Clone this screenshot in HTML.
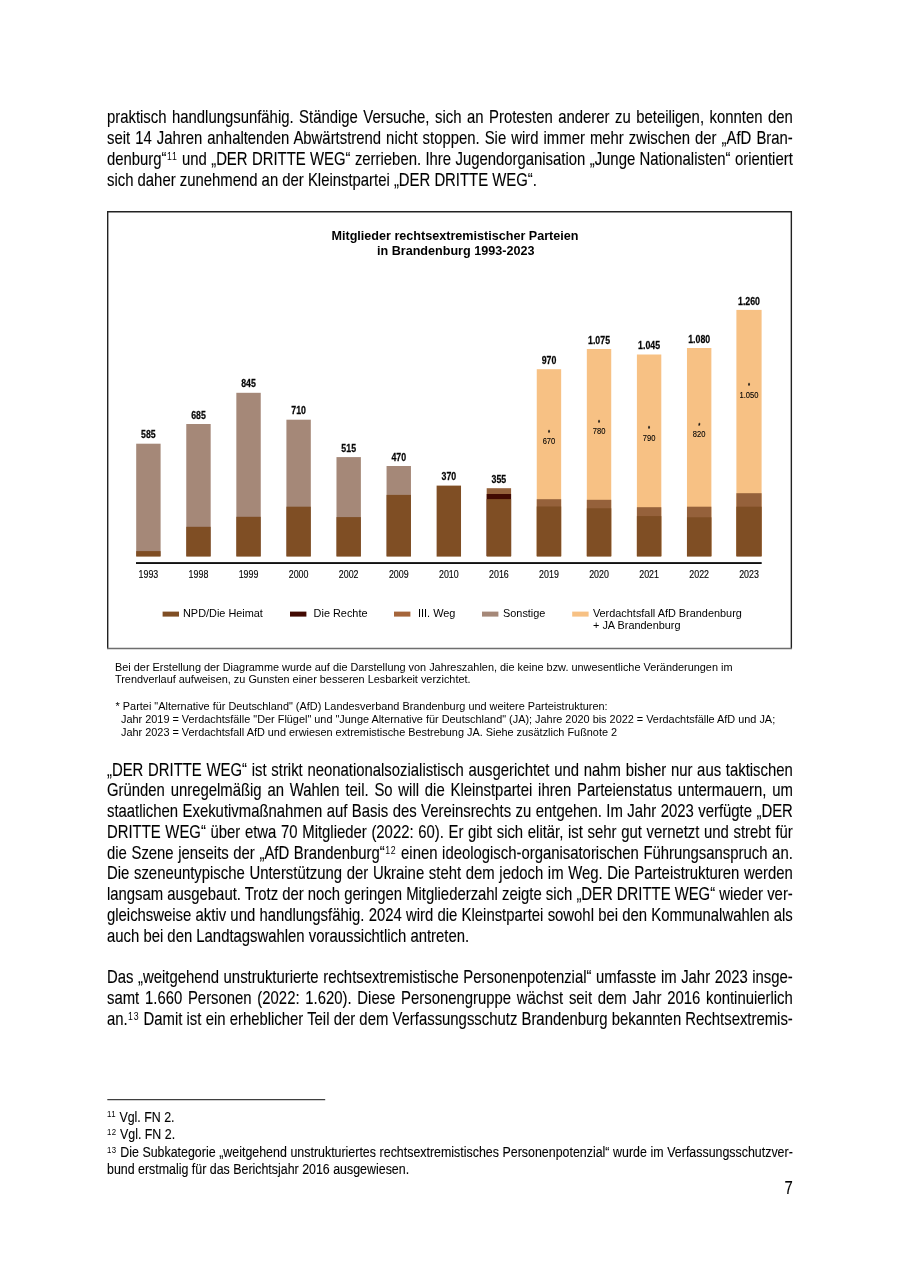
<!DOCTYPE html>
<html lang="de"><head><meta charset="utf-8"><title>Seite 7</title>
<style>
html,body{margin:0;padding:0;background:#fff}
body{width:900px;height:1273px;position:relative;overflow:hidden;font-family:"Liberation Sans",sans-serif;color:#000}
.pg{position:absolute;left:0;top:0;width:900px;height:1273px;filter:blur(0.35px)}
.ch{position:absolute;left:0;top:0}
.l{position:absolute;left:106.9px;width:834.31px;height:20px;line-height:20px;font-size:18.1px;white-space:nowrap;transform:scaleX(0.822);transform-origin:0 0;text-align:left;-webkit-text-stroke:0.12px #000}
.l.j{text-align:left}
.l.f{font-size:15.1px}
.l.pn{text-align:right}
.s{font-size:10.7px;position:relative;top:-4.7px;line-height:0;letter-spacing:0.9px;margin-left:0.5px;-webkit-text-stroke:0}
.fs{font-size:9.5px;position:relative;top:-4.2px;line-height:0;letter-spacing:0.5px;-webkit-text-stroke:0}
</style></head>
<body>
<div class="pg">
<svg class="ch" width="900" height="1273" viewBox="0 0 900 1273">
<path d="M107.7 648.6V211.8H791.35V648.6" fill="none" stroke="#222" stroke-width="1.4" stroke-linejoin="miter"/>
<path d="M107 648.5H792.05" fill="none" stroke="#6e6e6e" stroke-width="1.5"/>
<g font-family="'Liberation Sans', sans-serif" fill="#000">
<text x="455" y="240.4" font-size="12.6" font-weight="bold" text-anchor="middle" textLength="247" lengthAdjust="spacingAndGlyphs">Mitglieder rechtsextremistischer Parteien</text>
<text x="455.7" y="255.4" font-size="12.6" font-weight="bold" text-anchor="middle" textLength="157.5" lengthAdjust="spacingAndGlyphs">in Brandenburg 1993-2023</text>
<rect x="136.20" y="443.7" width="24.4" height="112.3" fill="#a58878"/>
<rect x="136.20" y="551.1" width="24.4" height="5.5" fill="#7f4e24"/>
<text transform="translate(148.40,438.3) scale(0.822,1)" font-size="10.7" font-weight="bold" stroke="#111" stroke-width="0.25" text-anchor="middle">585</text>
<text transform="translate(148.40,577.9) scale(0.822,1)" font-size="10.8" stroke="#111" stroke-width="0.15" text-anchor="middle">1993</text>
<rect x="186.27" y="424.0" width="24.4" height="132.0" fill="#a58878"/>
<rect x="186.27" y="526.8" width="24.4" height="29.8" fill="#7f4e24"/>
<text transform="translate(198.47,418.6) scale(0.822,1)" font-size="10.7" font-weight="bold" stroke="#111" stroke-width="0.25" text-anchor="middle">685</text>
<text transform="translate(198.47,577.9) scale(0.822,1)" font-size="10.8" stroke="#111" stroke-width="0.15" text-anchor="middle">1998</text>
<rect x="236.34" y="392.8" width="24.4" height="163.2" fill="#a58878"/>
<rect x="236.34" y="516.8" width="24.4" height="39.8" fill="#7f4e24"/>
<text transform="translate(248.54,387.4) scale(0.822,1)" font-size="10.7" font-weight="bold" stroke="#111" stroke-width="0.25" text-anchor="middle">845</text>
<text transform="translate(248.54,577.9) scale(0.822,1)" font-size="10.8" stroke="#111" stroke-width="0.15" text-anchor="middle">1999</text>
<rect x="286.41" y="419.7" width="24.4" height="136.3" fill="#a58878"/>
<rect x="286.41" y="506.7" width="24.4" height="49.9" fill="#7f4e24"/>
<text transform="translate(298.61,414.3) scale(0.822,1)" font-size="10.7" font-weight="bold" stroke="#111" stroke-width="0.25" text-anchor="middle">710</text>
<text transform="translate(298.61,577.9) scale(0.822,1)" font-size="10.8" stroke="#111" stroke-width="0.15" text-anchor="middle">2000</text>
<rect x="336.48" y="457.1" width="24.4" height="98.9" fill="#a58878"/>
<rect x="336.48" y="517.1" width="24.4" height="39.5" fill="#7f4e24"/>
<text transform="translate(348.68,451.7) scale(0.822,1)" font-size="10.7" font-weight="bold" stroke="#111" stroke-width="0.25" text-anchor="middle">515</text>
<text transform="translate(348.68,577.9) scale(0.822,1)" font-size="10.8" stroke="#111" stroke-width="0.15" text-anchor="middle">2002</text>
<rect x="386.55" y="466.0" width="24.4" height="90.0" fill="#a58878"/>
<rect x="386.55" y="494.9" width="24.4" height="61.7" fill="#7f4e24"/>
<text transform="translate(398.75,460.6) scale(0.822,1)" font-size="10.7" font-weight="bold" stroke="#111" stroke-width="0.25" text-anchor="middle">470</text>
<text transform="translate(398.75,577.9) scale(0.822,1)" font-size="10.8" stroke="#111" stroke-width="0.15" text-anchor="middle">2009</text>
<rect x="436.62" y="485.6" width="24.4" height="71.0" fill="#7f4e24"/>
<text transform="translate(448.82,480.2) scale(0.822,1)" font-size="10.7" font-weight="bold" stroke="#111" stroke-width="0.25" text-anchor="middle">370</text>
<text transform="translate(448.82,577.9) scale(0.822,1)" font-size="10.8" stroke="#111" stroke-width="0.15" text-anchor="middle">2010</text>
<rect x="486.69" y="488.2" width="24.4" height="67.8" fill="#95613b"/>
<rect x="486.69" y="494.0" width="24.4" height="62.0" fill="#420a02"/>
<rect x="486.69" y="499.1" width="24.4" height="57.5" fill="#7f4e24"/>
<text transform="translate(498.89,482.8) scale(0.822,1)" font-size="10.7" font-weight="bold" stroke="#111" stroke-width="0.25" text-anchor="middle">355</text>
<text transform="translate(498.89,577.9) scale(0.822,1)" font-size="10.8" stroke="#111" stroke-width="0.15" text-anchor="middle">2016</text>
<rect x="536.76" y="369.2" width="24.4" height="186.8" fill="#f7c184"/>
<rect x="536.76" y="499.2" width="24.4" height="56.8" fill="#95613b"/>
<rect x="536.76" y="506.5" width="24.4" height="50.1" fill="#7f4e24"/>
<text transform="translate(548.96,363.8) scale(0.822,1)" font-size="10.7" font-weight="bold" stroke="#111" stroke-width="0.25" text-anchor="middle">970</text>
<text transform="translate(548.96,577.9) scale(0.822,1)" font-size="10.8" stroke="#111" stroke-width="0.15" text-anchor="middle">2019</text>
<text transform="translate(548.96,444.4) scale(0.822,1)" font-size="9.2" stroke="#111" stroke-width="0.12" text-anchor="middle">670</text>
<text transform="translate(548.96,434.5) scale(0.822,1)" font-size="6.5" stroke="#111" stroke-width="0.3" text-anchor="middle">*</text>
<rect x="586.83" y="349.0" width="24.4" height="207.0" fill="#f7c184"/>
<rect x="586.83" y="499.8" width="24.4" height="56.2" fill="#95613b"/>
<rect x="586.83" y="508.3" width="24.4" height="48.3" fill="#7f4e24"/>
<text transform="translate(599.03,343.6) scale(0.822,1)" font-size="10.7" font-weight="bold" stroke="#111" stroke-width="0.25" text-anchor="middle">1.075</text>
<text transform="translate(599.03,577.9) scale(0.822,1)" font-size="10.8" stroke="#111" stroke-width="0.15" text-anchor="middle">2020</text>
<text transform="translate(599.03,434.4) scale(0.822,1)" font-size="9.2" stroke="#111" stroke-width="0.12" text-anchor="middle">780</text>
<text transform="translate(599.03,424.59999999999997) scale(0.822,1)" font-size="6.5" stroke="#111" stroke-width="0.3" text-anchor="middle">*</text>
<rect x="636.90" y="354.5" width="24.4" height="201.5" fill="#f7c184"/>
<rect x="636.90" y="507.2" width="24.4" height="48.8" fill="#95613b"/>
<rect x="636.90" y="516.1" width="24.4" height="40.5" fill="#7f4e24"/>
<text transform="translate(649.10,349.1) scale(0.822,1)" font-size="10.7" font-weight="bold" stroke="#111" stroke-width="0.25" text-anchor="middle">1.045</text>
<text transform="translate(649.10,577.9) scale(0.822,1)" font-size="10.8" stroke="#111" stroke-width="0.15" text-anchor="middle">2021</text>
<text transform="translate(649.10,441.2) scale(0.822,1)" font-size="9.2" stroke="#111" stroke-width="0.12" text-anchor="middle">790</text>
<text transform="translate(649.10,431.09999999999997) scale(0.822,1)" font-size="6.5" stroke="#111" stroke-width="0.3" text-anchor="middle">*</text>
<rect x="686.97" y="348.0" width="24.4" height="208.0" fill="#f7c184"/>
<rect x="686.97" y="506.7" width="24.4" height="49.3" fill="#95613b"/>
<rect x="686.97" y="517.3" width="24.4" height="39.3" fill="#7f4e24"/>
<text transform="translate(699.17,342.6) scale(0.822,1)" font-size="10.7" font-weight="bold" stroke="#111" stroke-width="0.25" text-anchor="middle">1.080</text>
<text transform="translate(699.17,577.9) scale(0.822,1)" font-size="10.8" stroke="#111" stroke-width="0.15" text-anchor="middle">2022</text>
<text transform="translate(699.17,437.09999999999997) scale(0.822,1)" font-size="9.2" stroke="#111" stroke-width="0.12" text-anchor="middle">820</text>
<text transform="translate(699.17,427.59999999999997) scale(0.822,1)" font-size="6.5" stroke="#111" stroke-width="0.3" text-anchor="middle">*</text>
<rect x="736.40" y="309.9" width="25.2" height="246.1" fill="#f7c184"/>
<rect x="736.40" y="493.2" width="25.2" height="62.8" fill="#95613b"/>
<rect x="736.40" y="506.7" width="25.2" height="49.9" fill="#7f4e24"/>
<text transform="translate(749.00,304.5) scale(0.822,1)" font-size="10.7" font-weight="bold" stroke="#111" stroke-width="0.25" text-anchor="middle">1.260</text>
<text transform="translate(749.00,577.9) scale(0.822,1)" font-size="10.8" stroke="#111" stroke-width="0.15" text-anchor="middle">2023</text>
<text transform="translate(749.00,397.79999999999995) scale(0.822,1)" font-size="9.2" stroke="#111" stroke-width="0.12" text-anchor="middle">1.050</text>
<text transform="translate(749.00,387.79999999999995) scale(0.822,1)" font-size="6.5" stroke="#111" stroke-width="0.3" text-anchor="middle">*</text>
<rect x="136" y="562.1" width="625.7" height="1.9" fill="#111"/>
<rect x="162.6" y="611.6" width="16.4" height="5" fill="#7f4e24"/>
<text x="183.0" y="616.8" font-size="10.9">NPD/Die Heimat</text>
<rect x="290.0" y="611.6" width="16.4" height="5" fill="#420a02"/>
<text x="313.6" y="616.8" font-size="10.9">Die Rechte</text>
<rect x="394.0" y="611.6" width="16.4" height="5" fill="#a5653a"/>
<text x="418.0" y="616.8" font-size="10.9">III. Weg</text>
<rect x="482.0" y="611.6" width="16.4" height="5" fill="#a58878"/>
<text x="503.0" y="616.8" font-size="10.9">Sonstige</text>
<rect x="572.2" y="611.6" width="16.4" height="5" fill="#f7c184"/>
<text x="592.9" y="616.8" font-size="10.9">Verdachtsfall AfD Brandenburg</text>
<text x="593.0" y="628.8" font-size="10.9">+ JA Brandenburg</text>
<text x="115.0" y="670.6" font-size="10.9">Bei der Erstellung der Diagramme wurde auf die Darstellung von Jahreszahlen, die keine bzw. unwesentliche Veränderungen im</text>
<text x="115.0" y="683.4" font-size="10.9">Trendverlauf aufweisen, zu Gunsten einer besseren Lesbarkeit verzichtet.</text>
<text x="115.6" y="709.6" font-size="10.9">* Partei "Alternative für Deutschland" (AfD) Landesverband Brandenburg und weitere Parteistrukturen:</text>
<text x="121.0" y="722.7" font-size="10.9">Jahr 2019 = Verdachtsfälle "Der Flügel" und "Junge Alternative für Deutschland" (JA); Jahre 2020 bis 2022 = Verdachtsfälle AfD und JA;</text>
<text x="121.0" y="735.6" font-size="10.9">Jahr 2023 = Verdachtsfall AfD und erwiesen extremistische Bestrebung JA. Siehe zusätzlich Fußnote 2</text>
</g>
<rect x="107.3" y="1099.2" width="217.9" height="1" fill="#111"/>
</svg>
<div class="l j " style="top:107.33px;word-spacing:1.682px"><span>praktisch handlungsunfähig. Ständige Versuche, sich an Protesten anderer zu beteiligen, konnten den</span></div>
<div class="l j " style="top:128.13px;word-spacing:1.118px"><span>seit 14 Jahren anhaltenden Abwärtstrend nicht stoppen. Sie wird immer mehr zwischen der „AfD Bran-</span></div>
<div class="l j " style="top:148.83px;word-spacing:0.325px"><span>denburg“<span class="s">11</span> und „DER DRITTE WEG“ zerrieben. Ihre Jugendorganisation „Junge Nationalisten“ orientiert</span></div>
<div class="l " style="top:169.63px"><span>sich daher zunehmend an der Kleinstpartei „DER DRITTE WEG“.</span></div>
<div class="l j " style="top:759.53px;word-spacing:0.724px"><span>„DER DRITTE WEG“ ist strikt neonationalsozialistisch ausgerichtet und nahm bisher nur aus taktischen</span></div>
<div class="l j " style="top:780.30px;word-spacing:2.029px"><span>Gründen unregelmäßig an Wahlen teil. So will die Kleinstpartei ihren Parteienstatus untermauern, um</span></div>
<div class="l j " style="top:801.07px;word-spacing:0.380px"><span>staatlichen Exekutivmaßnahmen auf Basis des Vereinsrechts zu entgehen. Im Jahr 2023 verfügte „DER</span></div>
<div class="l j " style="top:821.84px;word-spacing:0.649px"><span>DRITTE WEG“ über etwa 70 Mitglieder (2022: 60). Er gibt sich elitär, ist sehr gut vernetzt und strebt für</span></div>
<div class="l j " style="top:842.61px;word-spacing:0.597px"><span>die Szene jenseits der „AfD Brandenburg“<span class="s">12</span> einen ideologisch-organisatorischen Führungsanspruch an.</span></div>
<div class="l j " style="top:863.38px;word-spacing:0.661px"><span>Die szeneuntypische Unterstützung der Ukraine steht dem jedoch im Weg. Die Parteistrukturen werden</span></div>
<div class="l j " style="top:884.15px;word-spacing:-0.029px"><span>langsam ausgebaut. Trotz der noch geringen Mitgliederzahl zeigte sich „DER DRITTE WEG“ wieder ver-</span></div>
<div class="l j " style="top:904.92px;word-spacing:0.122px"><span>gleichsweise aktiv und handlungsfähig. 2024 wird die Kleinstpartei sowohl bei den Kommunalwahlen als</span></div>
<div class="l " style="top:925.69px"><span>auch bei den Landtagswahlen voraussichtlich antreten.</span></div>
<div class="l j " style="top:967.33px;word-spacing:0.510px"><span>Das „weitgehend unstrukturierte rechtsextremistische Personenpotenzial“ umfasste im Jahr 2023 insge-</span></div>
<div class="l j " style="top:988.10px;word-spacing:1.967px"><span>samt 1.660 Personen (2022: 1.620). Diese Personengruppe wächst seit dem Jahr 2016 kontinuierlich</span></div>
<div class="l j " style="top:1008.87px;word-spacing:0.068px"><span>an.<span class="s">13</span> Damit ist ein erheblicher Teil der dem Verfassungsschutz Brandenburg bekannten Rechtsextremis-</span></div>
<div class="l f" style="top:1106.67px"><span><span class="fs">11</span> Vgl. FN 2.</span></div>
<div class="l f" style="top:1124.27px"><span><span class="fs">12</span> Vgl. FN 2.</span></div>
<div class="l j f" style="top:1141.87px;word-spacing:0.248px"><span><span class="fs">13</span> Die Subkategorie „weitgehend unstrukturiertes rechtsextremistisches Personenpotenzial“ wurde im Verfassungsschutzver-</span></div>
<div class="l f" style="top:1159.37px"><span>bund erstmalig für das Berichtsjahr 2016 ausgewiesen.</span></div>
<div class="l pn" style="top:1178.43px"><span>7</span></div>
</div>
</body></html>
